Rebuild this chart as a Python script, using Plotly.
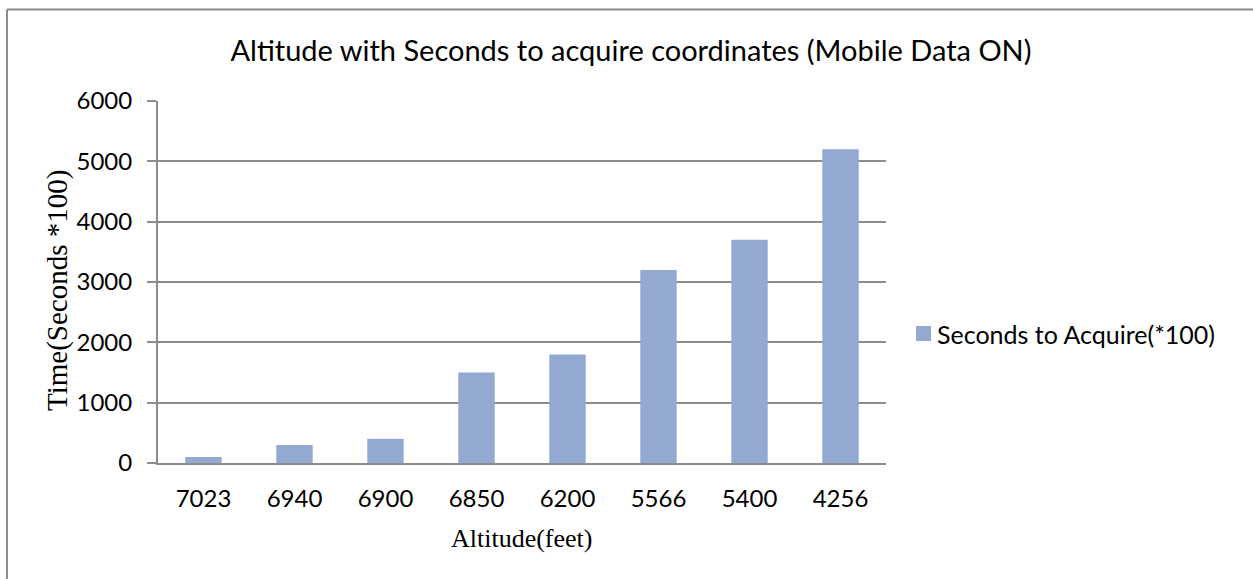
import plotly.graph_objects as go

# Altitude (feet) readings and the time taken to get a GPS fix
altitudes = ["7023", "6940", "6900", "6850", "6200", "5566", "5400", "4256"]
seconds_x100 = [100, 300, 400, 1500, 1800, 3200, 3700, 5200]
y_ticks = [0, 1000, 2000, 3000, 4000, 5000, 6000]
series_name = "Seconds to Acquire(*100)"

W, H = 1253, 579
L, R, T, B = 158, 886, 101, 463  # plot area in pixels


def px_x(x):
    return (x - L) / (R - L)


def px_y(y):
    return (B - y) / (B - T)


sans = "Lato, Calibri, sans-serif"
serif = "Liberation Serif, Times New Roman, serif"
grid = "#8c8c8c"
bar_color = "#94a9d1"

fig = go.Figure(
    go.Bar(
        x=altitudes,
        y=seconds_x100,
        name=series_name,
        marker=dict(color=bar_color, line=dict(width=0)),
        showlegend=False,
    )
)

fig.update_layout(
    width=W,
    height=H,
    margin=dict(l=L, r=W - R, t=T, b=H - B),
    paper_bgcolor="white",
    plot_bgcolor="white",
    bargap=0.6,
    title=dict(
        text="Altitude with Seconds to acquire coordinates (Mobile Data ON)",
        font=dict(family=sans, size=29, color="#000000"),
        x=631 / W,
        xanchor="center",
        y=1 - 51 / H,
        yanchor="middle",
    ),
    xaxis=dict(
        type="category",
        showgrid=False,
        showline=True,
        linecolor=grid,
        linewidth=2,
        ticks="",
        tickfont=dict(family=sans, size=24, color="#000000"),
        ticklabelstandoff=13,
        title=None,
    ),
    yaxis=dict(
        range=[0, 6000],
        tickvals=y_ticks,
        showgrid=True,
        gridcolor=grid,
        gridwidth=2,
        showline=True,
        linecolor=grid,
        linewidth=2,
        ticks="outside",
        ticklen=9,
        tickwidth=2,
        tickcolor=grid,
        tickfont=dict(family=sans, size=24, color="#000000"),
        ticklabelstandoff=10,
        zeroline=False,
        title=None,
    ),
    annotations=[
        dict(
            text="Altitude(feet)",
            xref="paper", yref="paper",
            x=px_x(522), y=px_y(538),
            xanchor="center", yanchor="middle",
            showarrow=False,
            font=dict(family=serif, size=26, color="#000000"),
        ),
        dict(
            text="Time(Seconds *100)",
            xref="paper", yref="paper",
            x=px_x(57), y=px_y(291),
            xanchor="center", yanchor="middle",
            textangle=-90,
            showarrow=False,
            font=dict(family=serif, size=29, color="#000000"),
        ),
        # legend label
        dict(
            text=series_name,
            xref="paper", yref="paper",
            x=px_x(935), y=px_y(334),
            xanchor="left", yanchor="middle",
            showarrow=False,
            font=dict(family=sans, size=25, color="#000000"),
        ),
    ],
    shapes=[
        # chart frame: top and left edges
        dict(type="line", xref="paper", yref="paper",
             x0=px_x(7), x1=px_x(W + 10), y0=px_y(9.5), y1=px_y(9.5),
             line=dict(color="#8c8c8c", width=2)),
        dict(type="line", xref="paper", yref="paper",
             x0=px_x(7), x1=px_x(7), y0=px_y(9.5), y1=px_y(H + 10),
             line=dict(color="#8c8c8c", width=2)),
        # legend swatch
        dict(type="rect", xref="paper", yref="paper",
             x0=px_x(916), x1=px_x(931), y0=px_y(341), y1=px_y(326),
             fillcolor=bar_color, line=dict(width=0)),
    ],
)

fig.write_html("out.html")
